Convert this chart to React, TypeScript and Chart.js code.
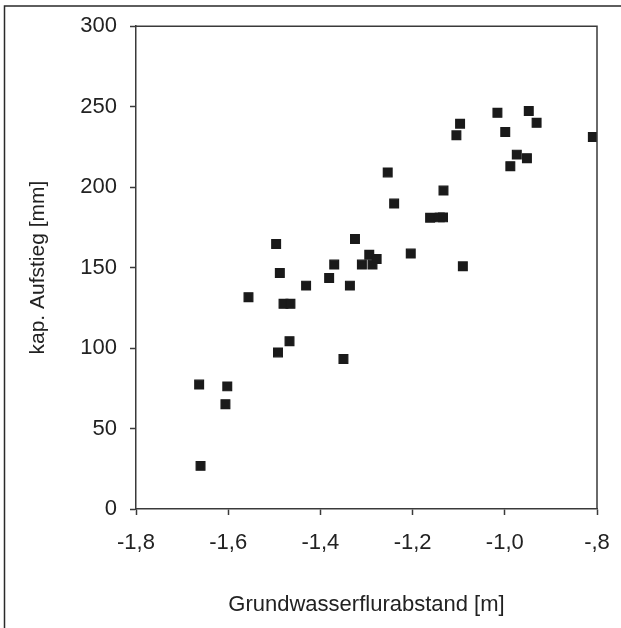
import React, { useEffect, useRef } from "react";
import { Chart, registerables } from "chart.js";

Chart.register(...registerables);

const xValues = [
  -1.66, -1.663, -1.602, -1.606, -1.556, -1.496, -1.488, -1.48, -1.465, -1.492,
  -1.467, -1.431, -1.381, -1.37, -1.336, -1.35, -1.325, -1.31, -1.294, -1.287,
  -1.278, -1.254, -1.24, -1.204, -1.162, -1.141, -1.134, -1.133, -1.105, -1.097,
  -1.091, -1.016, -0.999, -0.988, -0.974, -0.952, -0.948, -0.931, -0.809,
];
const yValues = [
  26.8, 77.3, 76.2, 65.1, 131.6, 164.7, 146.7, 127.5, 127.5, 97.3,
  104.3, 138.8, 143.6, 151.9, 138.8, 93.2, 167.8, 151.9, 158.0, 151.9,
  155.4, 209.1, 189.8, 158.7, 181.0, 181.2, 181.2, 197.9, 232.2, 239.4,
  150.8, 246.2, 234.3, 213.0, 220.2, 218.0, 247.3, 240.0, 231.2,
];
const xTickValues = [-1.8, -1.6, -1.4, -1.2, -1.0, -0.8];
const xTickLabels = ["-1,8", "-1,6", "-1,4", "-1,2", "-1,0", "-,8"];
const yTickValues = [0, 50, 100, 150, 200, 250, 300];
const xTitle = "Grundwasserflurabstand [m]";
const yTitle = "kap. Aufstieg [mm]";

const FONT = "'Liberation Sans', Arial, Helvetica, sans-serif";
const AXIS = "#3a3a3a";

const framePlugin = {
  id: "frame",
  afterDraw(chart: any) {
    const { ctx, chartArea } = chart;
    ctx.save();
    ctx.strokeStyle = AXIS;
    ctx.lineWidth = 1.5;
    ctx.beginPath();
    ctx.moveTo(chartArea.left, chartArea.top);
    ctx.lineTo(chartArea.right, chartArea.top);
    ctx.lineTo(chartArea.right, chartArea.bottom);
    ctx.stroke();
    // outer picture frame (left & top edges)
    ctx.strokeStyle = "#2a2a2a";
    ctx.lineWidth = 1.5;
    ctx.beginPath();
    ctx.moveTo(4.5, chart.height);
    ctx.lineTo(4.5, 6);
    ctx.lineTo(chart.width, 6);
    ctx.stroke();
    ctx.restore();
  },
};

export default function App() {
  const ref = useRef<HTMLCanvasElement | null>(null);
  useEffect(() => {
    if (!ref.current) return;
    const data = xValues.map((x, i) => ({ x, y: yValues[i] }));
    const chart = new Chart(ref.current, {
      type: "scatter",
      data: {
        datasets: [
          {
            data,
            backgroundColor: "#1a1a1a",
            borderColor: "#1a1a1a",
            borderWidth: 1.2,
            pointStyle: "rect",
            pointRadius: 6.2,
          },
        ],
      },
      options: {
        animation: false,
        responsive: false,
        maintainAspectRatio: false,
        layout: { padding: { top: 25, right: 24, left: 0, bottom: 0 } },
        plugins: { legend: { display: false }, tooltip: { enabled: false } },
        scales: {
          x: {
            type: "linear",
            min: -1.8,
            max: -0.8,
            afterBuildTicks: (scale: any) => {
              scale.ticks = xTickValues.map((v) => ({ value: v }));
            },
            afterFit: (scale: any) => {
              scale.height = 119;
              scale.paddingLeft = 0;
              scale.paddingRight = 0;
            },
            grid: {
              drawOnChartArea: false,
              drawTicks: true,
              tickLength: 6,
              tickColor: AXIS,
              tickWidth: 1.5,
            },
            border: { display: true, color: AXIS, width: 1.5 },
            ticks: {
              padding: 15,
              color: "#222",
              font: { family: FONT, size: 22 },
              maxRotation: 0,
              callback: (_v: any, i: number) => xTickLabels[i],
            },
            title: {
              display: true,
              text: xTitle,
              color: "#222",
              font: { family: FONT, size: 22 },
              padding: { top: 0, bottom: 10 },
            },
          },
          y: {
            type: "linear",
            min: 0,
            max: 300,
            afterBuildTicks: (scale: any) => {
              scale.ticks = yTickValues.map((v) => ({ value: v }));
            },
            afterFit: (scale: any) => {
              scale.width = 136;
            },
            grid: {
              drawOnChartArea: false,
              drawTicks: true,
              tickLength: 6,
              tickColor: AXIS,
              tickWidth: 1.5,
            },
            border: { display: true, color: AXIS, width: 1.5 },
            ticks: {
              padding: 13,
              color: "#222",
              font: { family: FONT, size: 22 },
              callback: (v: any) => String(v),
            },
            title: {
              display: true,
              text: yTitle,
              color: "#222",
              font: { family: FONT, size: 21 },
              padding: { top: 26, bottom: 0 },
            },
          },
        },
      },
      plugins: [framePlugin],
    });
    return () => chart.destroy();
  }, []);
  return (
    <div
      style={{
        position: "absolute",
        left: 0,
        top: 0,
        width: 621,
        height: 628,
        background: "#fff",
      }}
    >
      <canvas ref={ref} width={621} height={628} />
    </div>
  );
}
